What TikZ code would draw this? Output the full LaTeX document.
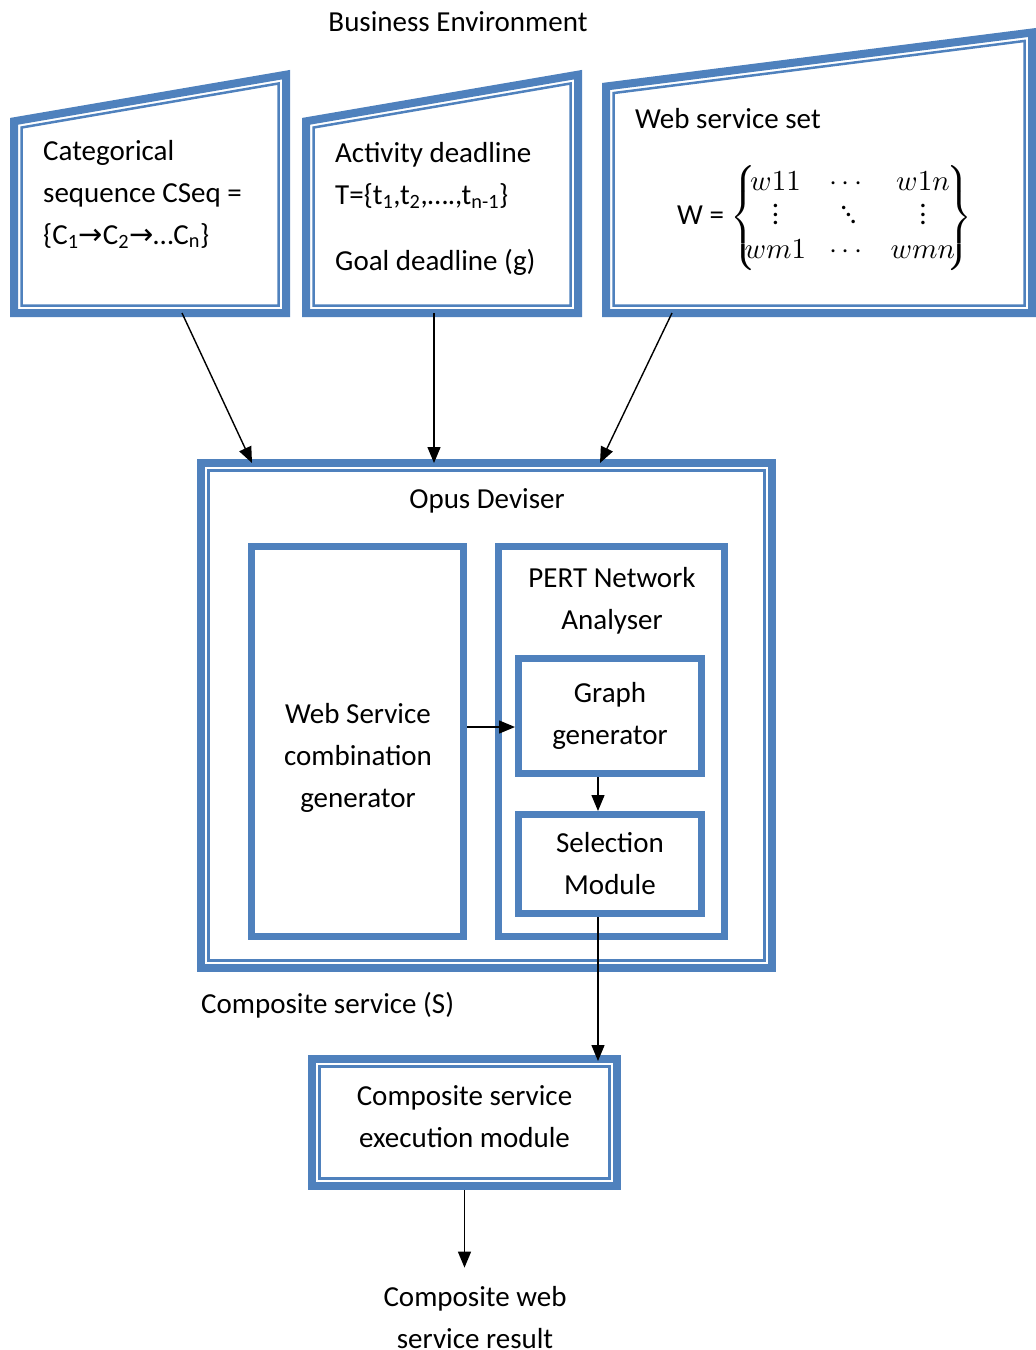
\documentclass[tikz,border=0pt]{standalone}
\usepackage{amsmath}
\usepackage{graphicx}
\usepackage{fontspec}
\setmainfont{Carlito}
\newfontfamily\symbolsFont{DejaVu Sans}
\usetikzlibrary{arrows.meta, positioning, calc}
\definecolor{frameBlue}{RGB}{79,129,189}
\newcommand\colDots{\vbox{\baselineskip=3pt \lineskiplimit=-10pt \hbox{.}\hbox{.}\hbox{.}}}
\newcommand\diagDots{\mbox{\raisebox{5.2pt}{.}\kern-0.9pt\raisebox{2.9pt}{.}\kern-0.9pt\raisebox{0.6pt}{.}}}

\begin{document}
\begin{tikzpicture}
	[
	x=1pt, y=-1pt,
	font=\fontsize{29}{42}\selectfont,
        boxText/.style={
            align=center,
            inner sep=0pt
        },
        singleFrame/.style={
            rectangle,
            draw=frameBlue,
            line width=7pt,
            inner sep=0pt,
            align=center
        },
        doubleFrame/.style={
            rectangle,
            draw=frameBlue,
            line width=8pt,
            inner sep=0pt,
            align=center,
            path picture={\draw[frameBlue, line width=2.5pt]
                ([shift={(7.5pt,-7.5pt)}]path picture bounding box.north west) rectangle
                ([shift={(-7.5pt,7.5pt)}]path picture bounding box.south east);}
        },
        actionArrow/.style={
            -{Triangle[length=16pt,width=13pt]},
            line width=1.4pt
        }
    ]
    \useasboundingbox (0,0) rectangle (1036,1350);

    % input frames of the business environment
    \foreach \xa/\xb/\ya/\yb in {10/290/118/70, 302/582/118/70, 602/1036/83/28}{
        \pgfmathsetmacro\m{(\yb-\ya)/(\xb-\xa)}
        \draw[frameBlue, line width=8pt] ({\xa+4},{\ya+4*\m+4}) -- ({\xb-4},{\yb-4*\m+4}) -- ({\xb-4},313) -- ({\xa+4},313) -- cycle;
        \draw[frameBlue, line width=2.5pt] ({\xa+11.5},{\ya+11.5*\m+11.5}) -- ({\xb-11.5},{\yb-11.5*\m+11.5}) -- ({\xb-11.5},305.5) -- ({\xa+11.5},305.5) -- cycle;
    }

    \node(businessEnvironment) [boxText] at (458,22) {Business Environment};
    \node(categorical) [boxText, align=left, anchor=base west] at (43,244) {Categorical\\sequence CSeq =\\\{C\textsubscript{1}{\symbolsFont →}C\textsubscript{2}{\symbolsFont →}…C\textsubscript{n}\}};
    \node(deadlines) [boxText, align=left, anchor=base west] at (335,270) {Activity deadline\\T=\{t\textsubscript{1},t\textsubscript{2},….,t\textsubscript{n-1}\}\\[24pt]Goal deadline (g)};
    \node(serviceSet) [boxText, anchor=base west] at (635,128) {Web service set};
    \node(serviceMatrix) [boxText, anchor=west] at (677,218) {W = $\vcenter{\hbox{\scalebox{2.9}{\fontsize{10}{11.7}\selectfont$\left\{\kern-4pt\begin{array}{@{}c@{\hspace{7.9pt}}c@{\hspace{7.9pt}}c@{}}
        w11 & \cdots & w1n \\
        \colDots & \diagDots & \colDots \\
        wm1 & \cdots & wmn
        \end{array}\kern-3pt\right\}$}}}$};

    \coordinate(categoricalOut) at (182,313);
    \coordinate(deadlinesOut) at (434,313);
    \coordinate(serviceSetOut) at (672,313);

    % opus deviser and its modules
    \node(opusDeviser) [doubleFrame, minimum width=571pt, minimum height=505pt] at (486.5,715.5) {};
    \node(opusLabel) [boxText] at (487,501) {Opus Deviser};
    \node(combinationGenerator) [singleFrame, minimum width=212pt, minimum height=390pt] at (357.5,741.5) {};
    \node(combinationText) [boxText] at (358,758) {Web Service\\combination\\generator};
    \node(pertAnalyser) [singleFrame, minimum width=226pt, minimum height=390pt] at (611.5,741.5) {};
    \node(pertText) [boxText] at (612,601) {PERT Network\\Analyser};
    \node(graphGenerator) [singleFrame, minimum width=183pt, minimum height=115pt] at (610,716) {Graph\\generator};
    \node(selectionModule) [singleFrame, minimum width=183pt, minimum height=99pt, below=34pt of graphGenerator] {Selection\\Module};

    \node(compositeLabel) [boxText, anchor=west] at (201,1005) {Composite service (S)};
    \node(executionModule) [doubleFrame, minimum width=305pt, minimum height=127pt] at (464.5,1122.5) {Composite service\\execution module\\[-30pt]};
    \node(webResult) [boxText, inner ysep=19pt] at (475,1318) {Composite web\\service result};

    \draw[actionArrow] (categoricalOut) -- ([shift={(-234.5pt,-4pt)}]opusDeviser.north);
    \draw[actionArrow] (deadlinesOut) -- ([shift={(-52.5pt,-4pt)}]opusDeviser.north);
    \draw[actionArrow] (serviceSetOut) -- ([shift={(113.5pt,-4pt)}]opusDeviser.north);
    \draw[actionArrow] ([yshift=14.5pt]combinationGenerator.east) -- ([yshift=14.5pt]combinationGenerator.east -| graphGenerator.west);
    \draw[actionArrow] ([xshift=-12pt]graphGenerator.south) -- ([xshift=-12pt]selectionModule.north);
    \draw[actionArrow] ([xshift=-12pt]selectionModule.south) -- ([shift={(133.5pt,-6pt)}]executionModule.north);
    \draw[actionArrow] (executionModule.south) -- (executionModule.south |- webResult.north);
\end{tikzpicture}
\end{document}
